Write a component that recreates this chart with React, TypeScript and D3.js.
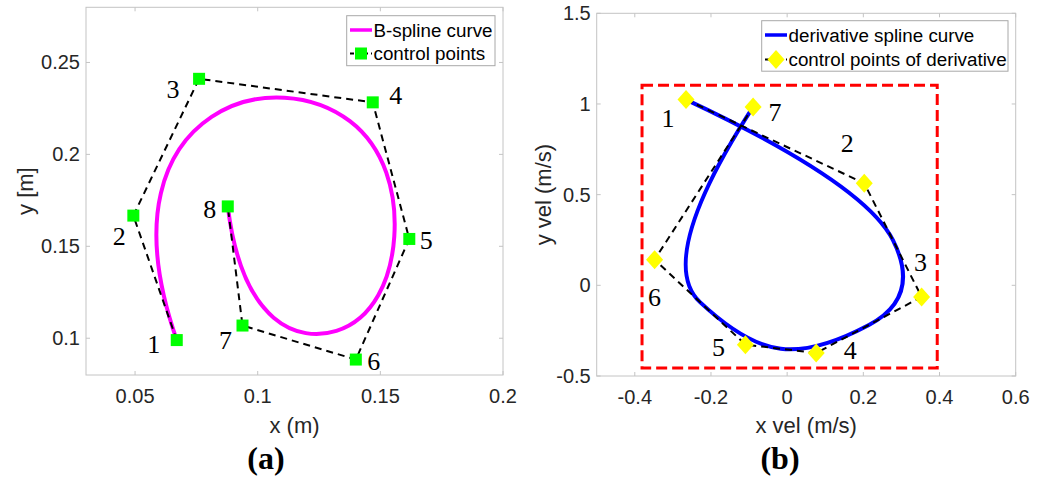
import * as d3 from 'd3';

// control points of the B-spline (panel a)
const posX = [0.067, 0.0493, 0.0761, 0.1469, 0.1618, 0.14, 0.0938, 0.0878];
const posY = [0.099, 0.1667, 0.2411, 0.2283, 0.154, 0.0884, 0.1069, 0.1717];
// control points of the derivative (panel b)
const velX = [-0.2655, 0.2024, 0.353, 0.0762, -0.1096, -0.348, -0.0894];
const velY = [1.024, 0.5626, -0.064, -0.373, -0.327, 0.1417, 0.984];
// velocity limits box [xmin, xmax, ymin, ymax]
const velLimits = [-0.381, 0.394, -0.456, 1.103];

// clamped knot vectors
const knotsPos = [0, 0, 0, 0, 1, 2, 3, 4, 5, 5, 5, 5];
const knotsVel = [0, 0, 0, 1, 2, 3, 4, 5, 5, 5];

const ticksAX = [0.05, 0.1, 0.15, 0.2];
const ticksAY = [0.1, 0.15, 0.2, 0.25];
const ticksBX = [-0.4, -0.2, 0, 0.2, 0.4, 0.6];
const ticksBY = [-0.5, 0, 0.5, 1, 1.5];

// label offsets (px) for point numbers
const offA = [[-23, 4], [-14, 20], [-26, 10], [23, -7], [17, 1], [18, 1], [-17, 14], [-18, 2]];
const offB = [[-18, 18], [-17, -40], [-1, -35], [34, -3], [-27, 2], [0, 37], [22, 5]];

const SANS = '"Liberation Sans", Arial, Helvetica, sans-serif';
const SERIF = '"Liberation Serif", "Times New Roman", serif';
const AXIS_GRAY = '#c4c4c4';
const TXT = '#262626';

// blossom of a B-spline in span k (de Boor with per-level arguments)
function blossom(P, t, p, k, us) {
  const d = [];
  for (let j = 0; j <= p; j++) d[j] = P[k - p + j].slice();
  for (let r = 1; r <= p; r++) {
    for (let j = p; j >= r; j--) {
      const i = k - p + j;
      const alpha = (us[r - 1] - t[i]) / (t[i + p + 1 - r] - t[i]);
      d[j] = [(1 - alpha) * d[j - 1][0] + alpha * d[j][0], (1 - alpha) * d[j - 1][1] + alpha * d[j][1]];
    }
  }
  return d[p];
}

// exact Bezier decomposition of the spline into a d3 path
function splinePath(px, py, knots, deg, sx, sy) {
  const P = px.map((x, i) => [x, py[i]]);
  const path = d3.path();
  let started = false;
  for (let k = deg; k < P.length; k++) {
    const a = knots[k], b = knots[k + 1];
    if (b <= a) continue;
    const pts = [];
    for (let m = 0; m <= deg; m++) {
      const us = Array(deg - m).fill(a).concat(Array(m).fill(b));
      const q = blossom(P, knots, deg, k, us);
      pts.push([sx(q[0]), sy(q[1])]);
    }
    if (!started) { path.moveTo(pts[0][0], pts[0][1]); started = true; }
    if (deg === 3) path.bezierCurveTo(pts[1][0], pts[1][1], pts[2][0], pts[2][1], pts[3][0], pts[3][1]);
    else path.quadraticCurveTo(pts[1][0], pts[1][1], pts[2][0], pts[2][1]);
  }
  return path.toString();
}

const Axes = ({ sx, sy, xt, yt, xLabel, yLabel, yLabelX }) => {
  const [x0, x1] = sx.range();
  const [y0, y1] = sy.range();
  return (
    <g>
      <rect x={x0} y={y1} width={x1 - x0} height={y0 - y1} fill="white" stroke={AXIS_GRAY} strokeWidth={1} />
      {xt.map((v) => (
        <g key={'x' + v}>
          <line x1={sx(v)} x2={sx(v)} y1={y0} y2={y0 - 4} stroke={AXIS_GRAY} />
          <line x1={sx(v)} x2={sx(v)} y1={y1} y2={y1 + 4} stroke={AXIS_GRAY} />
          <text x={sx(v)} y={y0 + 28} textAnchor="middle" fontFamily={SANS} fontSize={20} fill={TXT}>{String(v)}</text>
        </g>
      ))}
      {yt.map((v) => (
        <g key={'y' + v}>
          <line x1={x0} x2={x0 + 4} y1={sy(v)} y2={sy(v)} stroke={AXIS_GRAY} />
          <line x1={x1} x2={x1 - 4} y1={sy(v)} y2={sy(v)} stroke={AXIS_GRAY} />
          <text x={x0 - 6} y={sy(v)} dy="0.35em" textAnchor="end" fontFamily={SANS} fontSize={20} fill={TXT}>{String(v)}</text>
        </g>
      ))}
      <text x={(x0 + x1) / 2} y={433} textAnchor="middle" fontFamily={SANS} fontSize={22} fill={TXT}>{xLabel}</text>
      <text transform={`translate(${yLabelX},${(y0 + y1) / 2}) rotate(-90)`} dy="0.35em" textAnchor="middle"
        fontFamily={SANS} fontSize={22} fill={TXT}>{yLabel}</text>
    </g>
  );
};

const square = (x, y, key) => <rect key={key} x={x - 6} y={y - 6} width={12} height={12} fill="#00ff00" />;
const diamond = (x, y, key) => (
  <path key={key} d={`M${x},${y - 9.5}L${x + 8.5},${y}L${x},${y + 9.5}L${x - 8.5},${y}Z`} fill="#ffff00" />
);

const PanelA = () => {
  const sx = d3.scaleLinear().domain([0.03, 0.2]).range([86, 503]);
  const sy = d3.scaleLinear().domain([0.08, 0.28]).range([375, 7.3]);
  const poly = d3.line()(posX.map((x, i) => [sx(x), sy(posY[i])]));
  const curve = splinePath(posX, posY, knotsPos, 3, sx, sy);
  return (
    <g>
      <Axes sx={sx} sy={sy} xt={ticksAX} yt={ticksAY} xLabel="x (m)" yLabel="y [m]" yLabelX={25} />
      <path d={curve} fill="none" stroke="#ff00ff" strokeWidth={4} />
      <path d={poly} fill="none" stroke="black" strokeWidth={2} strokeDasharray="7,5" />
      {posX.map((x, i) => square(sx(x), sy(posY[i]), i))}
      {posX.map((x, i) => (
        <text key={'l' + i} x={sx(x) + offA[i][0]} y={sy(posY[i]) + offA[i][1]} dy="0.35em" textAnchor="middle"
          fontFamily={SERIF} fontSize={26} fill="black">{i + 1}</text>
      ))}
      <g>
        <rect x={346.7} y={15.7} width={148.3} height={50} fill="white" stroke="#a8a8a8" />
        <line x1={350} x2={372} y1={30} y2={30} stroke="#ff00ff" strokeWidth={3.5} />
        <text x={373.5} y={30} dy="0.35em" fontFamily={SANS} fontSize={18.8} fill="black">B-spline curve</text>
        <line x1={350} x2={372} y1={53.5} y2={53.5} stroke="black" strokeWidth={2} strokeDasharray="4,3" />
        {square(361, 53.5, 'lg')}
        <text x={373.5} y={53.5} dy="0.35em" fontFamily={SANS} fontSize={18.8} fill="black">control points</text>
      </g>
      <text x={266} y={469} textAnchor="middle" fontFamily={SERIF} fontWeight="bold" fontSize={32} fill="black">(a)</text>
    </g>
  );
};

const PanelB = () => {
  const sx = d3.scaleLinear().domain([-0.5, 0.6]).range([596.7, 1015.7]);
  const sy = d3.scaleLinear().domain([-0.5, 1.5]).range([376, 13.3]);
  const poly = d3.line()(velX.map((x, i) => [sx(x), sy(velY[i])]));
  const curve = splinePath(velX, velY, knotsVel, 2, sx, sy);
  const [bx0, bx1, by0, by1] = velLimits;
  return (
    <g>
      <Axes sx={sx} sy={sy} xt={ticksBX} yt={ticksBY} xLabel="x vel (m/s)" yLabel="y vel (m/s)" yLabelX={543} />
      <rect x={sx(bx0)} y={sy(by1)} width={sx(bx1) - sx(bx0)} height={sy(by0) - sy(by1)} fill="none"
        stroke="#ff0000" strokeWidth={3} strokeDasharray="11,5" />
      <path d={curve} fill="none" stroke="#0000ff" strokeWidth={4} />
      <path d={poly} fill="none" stroke="black" strokeWidth={2} strokeDasharray="7,5" />
      {velX.map((x, i) => diamond(sx(x), sy(velY[i]), i))}
      {velX.map((x, i) => (
        <text key={'l' + i} x={sx(x) + offB[i][0]} y={sy(velY[i]) + offB[i][1]} dy="0.35em" textAnchor="middle"
          fontFamily={SERIF} fontSize={26} fill="black">{i + 1}</text>
      ))}
      <g>
        <rect x={761.7} y={20.7} width={246.3} height={50.5} fill="white" stroke="#a8a8a8" />
        <line x1={765} x2={787} y1={35} y2={35} stroke="#0000ff" strokeWidth={3.5} />
        <text x={788.5} y={35} dy="0.35em" fontFamily={SANS} fontSize={18.8} fill="black">derivative spline curve</text>
        <line x1={765} x2={787} y1={59.5} y2={59.5} stroke="black" strokeWidth={2} strokeDasharray="4,3" />
        {diamond(776, 59.5, 'lg')}
        <text x={788.5} y={59.5} dy="0.35em" fontFamily={SANS} fontSize={18.8} fill="black">control points of derivative</text>
      </g>
      <text x={780} y={469} textAnchor="middle" fontFamily={SERIF} fontWeight="bold" fontSize={32} fill="black">(b)</text>
    </g>
  );
};

export default function App() {
  return (
    <svg width={1046} height={477} style={{ position: 'absolute', left: 0, top: 0, background: 'white' }}>
      <rect width={1046} height={477} fill="white" />
      <PanelA />
      <PanelB />
    </svg>
  );
}
